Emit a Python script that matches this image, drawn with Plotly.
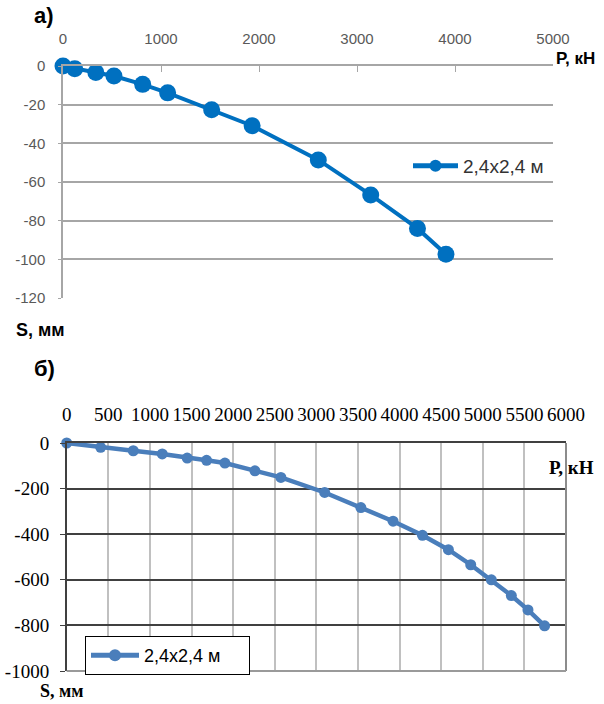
import plotly.graph_objects as go

# ---- data (a) ----
top_P = [0, 120, 335, 520, 813, 1068, 1517, 1930, 2605, 3140, 3617, 3908]
top_S = [0, -1.4, -3.4, -5.2, -9.5, -13.9, -22.6, -30.9, -48.6, -66.7, -84.0, -97.4]
top_xticks = [0, 1000, 2000, 3000, 4000, 5000]
top_yticks = [0, -20, -40, -60, -80, -100, -120]
top_ytext = ["0", "-20", "-40", "-60", "-80", "-100", "-120"]

# ---- data (б) ----
bot_P = [0, 408, 800, 1148, 1448, 1681, 1901, 2262, 2574, 3100, 3535, 3922,
         4275, 4587, 4855, 5103, 5343, 5543, 5743]
bot_S = [0, -19, -34, -48, -66, -76, -88, -122, -151, -217, -283, -343,
         -405, -468, -534, -600, -669, -732, -802]
bot_xticks = [0, 500, 1000, 1500, 2000, 2500, 3000, 3500, 4000, 4500, 5000, 5500, 6000]
bot_yticks = [0, -200, -400, -600, -800, -1000]
bot_ytext = ["0", "-200", "-400", "-600", "-800", "-1000"]

series_name = "2,4х2,4 м"

W, H = 604, 704
def px(v): return v / W
def py(v): return 1 - v / H

SANS = "Liberation Sans Narrow, Arial Narrow, Liberation Sans, sans-serif"
SERIF = "Liberation Serif, Times New Roman, serif"

fig = go.Figure()
fig.add_trace(go.Scatter(
    x=top_P, y=top_S, xaxis="x", yaxis="y", mode="lines+markers",
    name=series_name, legend="legend", cliponaxis=False,
    line=dict(color="#0070C0", width=4),
    marker=dict(size=17, color="#0070C0")))
fig.add_trace(go.Scatter(
    x=bot_P, y=bot_S, xaxis="x2", yaxis="y2", mode="lines+markers",
    name=series_name, legend="legend2", cliponaxis=False,
    line=dict(color="#4A7EBB", width=4.5),
    marker=dict(size=11, color="#4A7EBB")))

grey = "#A6A6A6"
dark = "#404040"
fig.update_layout(
    template="none",
    width=W, height=H, margin=dict(l=0, r=0, t=0, b=0, autoexpand=False),
    paper_bgcolor="white", plot_bgcolor="white",
    xaxis=dict(domain=[px(63), px(553)], range=[0, 5000], side="top", anchor="y",
               automargin=False,
               tickvals=top_xticks, showline=True, linecolor=grey, linewidth=1.5,
               ticks="inside", ticklen=6, tickcolor=grey, showgrid=False, zeroline=False,
               tickfont=dict(family=SANS, size=15, color="#595959"), ticklabelstandoff=14),
    yaxis=dict(domain=[py(298), py(66)], range=[-120, 0], anchor="x", automargin=False,
               tickvals=top_yticks, ticktext=top_ytext, showline=True, linecolor=grey,
               linewidth=1.5, showgrid=True, gridcolor=grey, gridwidth=1.5,
               ticks="outside", ticklen=3, tickcolor=grey, zeroline=False,
               tickfont=dict(family=SANS, size=15, color="#595959"), ticklabelstandoff=10),
    xaxis2=dict(domain=[px(66.7), px(566)], range=[0, 6000], side="top", anchor="y2",
                automargin=False,
                tickvals=bot_xticks, showline=True, linecolor=dark, linewidth=1.5,
                showgrid=True, gridcolor="#C0C0C0", gridwidth=1.5, ticks="", zeroline=False,
                tickfont=dict(family=SERIF, size=19, color="black"), ticklabelstandoff=13),
    yaxis2=dict(domain=[py(671), py(443)], range=[-1000, 0], anchor="x2", automargin=False,
                tickvals=bot_yticks, ticktext=bot_ytext, showline=True, linecolor=dark,
                linewidth=1.5, showgrid=True, gridcolor=dark, gridwidth=1.5,
                ticks="outside", ticklen=5, tickcolor=dark, zeroline=False,
                tickfont=dict(family=SERIF, size=19, color="black"), ticklabelstandoff=7),
    legend=dict(x=px(408), y=py(166), xanchor="left", yanchor="middle",
                bgcolor="rgba(0,0,0,0)", borderwidth=0, itemsizing="constant",
                itemwidth=45, font=dict(family=SANS, size=19, color="#333333")),
    legend2=dict(x=px(85), y=py(636), xanchor="left", yanchor="top",
                 bgcolor="white", bordercolor="black", borderwidth=1,
                 itemsizing="constant", itemwidth=48, orientation="h",
                 entrywidth=100,
                 font=dict(family=SANS, size=18, color="black")),
    showlegend=True,
    shapes=[
        dict(type="line", xref="x2 domain", yref="y2 domain", x0=1, x1=1, y0=0, y1=1,
             line=dict(color="#8C8C8C", width=2)),
        dict(type="line", xref="x2 domain", yref="y2 domain", x0=0, x1=1, y0=0, y1=0,
             line=dict(color="#9A9A9A", width=2)),
    ],
    annotations=[
        dict(text="<b>а)</b>", x=px(32), y=py(16), xref="paper", yref="paper",
             xanchor="left", yanchor="middle", showarrow=False,
             font=dict(family="Liberation Sans, sans-serif", size=22, color="black")),
        dict(text="<b>Р, кН</b>", x=px(554), y=py(58), xref="paper", yref="paper",
             xanchor="left", yanchor="middle", showarrow=False,
             font=dict(family=SANS, size=17, color="black")),
        dict(text="<b>S, мм</b>", x=px(14), y=py(330), xref="paper", yref="paper",
             xanchor="left", yanchor="middle", showarrow=False,
             font=dict(family=SANS, size=18, color="black")),
        dict(text="<b>б)</b>", x=px(32), y=py(368), xref="paper", yref="paper",
             xanchor="left", yanchor="middle", showarrow=False,
             font=dict(family="Liberation Sans, sans-serif", size=22, color="black")),
        dict(text="<b>Р, кН</b>", x=px(547), y=py(467), xref="paper", yref="paper",
             xanchor="left", yanchor="middle", showarrow=False,
             font=dict(family=SERIF, size=19, color="black")),
        dict(text="<b>S, мм</b>", x=px(38), y=py(691), xref="paper", yref="paper",
             xanchor="left", yanchor="middle", showarrow=False,
             font=dict(family=SERIF, size=18, color="black")),
    ],
)

fig.write_html("out.html", config={"displayModeBar": False},
               post_script="document.body.style.margin='0';")
